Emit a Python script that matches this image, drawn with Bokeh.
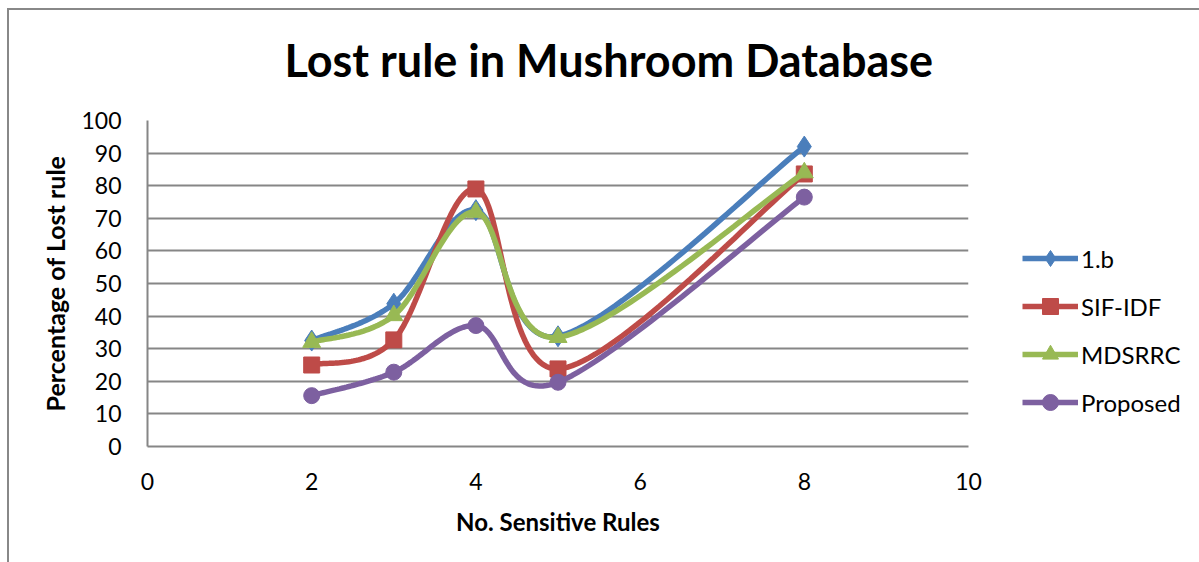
import numpy as np
from bokeh.plotting import figure
from bokeh.models import Legend, LegendItem, FixedTicker, Range1d, Title
from bokeh.embed import file_html
from bokeh.resources import INLINE

x_vals = [2, 3, 4, 5, 8]
series_names = ["1.b", "SIF-IDF", "MDSRRC", "Proposed"]
b1 = [32.5, 43.8, 72.5, 33.8, 92]
sif_idf = [25, 32.7, 79, 23.8, 83.6]
mdsrrc = [32, 40.2, 71.9, 33.5, 84]
proposed = [15.6, 22.8, 37.1, 19.7, 76.5]
colors = ["#4A7EBB", "#BE4B48", "#98B954", "#7D60A0"]
markers = ["diamond", "square", "triangle", "circle"]
x_ticks = [0, 2, 4, 6, 8, 10]
y_ticks = list(range(0, 101, 10))
title_text = "Lost rule in Mushroom Database"

FONT = "Lato"

def smooth(xs, ys, n=40):
    P = np.column_stack([xs, ys]).astype(float)
    out = []
    for i in range(len(P) - 1):
        p0 = P[i - 1] if i > 0 else P[i]
        p1 = P[i]
        p2 = P[i + 1]
        p3 = P[i + 2] if i + 2 < len(P) else P[i + 1]
        c1 = p1 + (p2 - p0) / 6.0
        c2 = p2 - (p3 - p1) / 6.0
        t = np.linspace(0, 1, n)[:, None]
        seg = ((1 - t) ** 3) * p1 + 3 * ((1 - t) ** 2) * t * c1 + 3 * (1 - t) * t ** 2 * c2 + t ** 3 * p2
        if i > 0:
            seg = seg[1:]
        out.append(seg)
    out = np.vstack(out)
    return out[:, 0], out[:, 1]

# canvas starts at x=9, y=10 (after 7/8 px margin + 2 px border)
p = figure(width=1190, height=552, output_backend="svg", toolbar_location=None,
           x_range=Range1d(0, 10), y_range=Range1d(0, 100),
           frame_width=821, frame_height=326, title_location=None,
           min_border_left=138, min_border_top=110, min_border_right=231, min_border_bottom=116)
p.styles = {"margin-left": "7px", "margin-top": "8px",
            "border-left": "2px solid #888888", "border-top": "2px solid #888888"}
p.outline_line_color = None
p.background_fill_color = "white"
p.border_fill_color = "white"

spacer = Title(text=" ", text_font_size="1px", standoff=26)
main_title = Title(text=title_text, text_font=FONT, text_font_size="45px",
                   text_font_style="bold", text_color="black",
                   align="left", offset=137, standoff=10)
p.add_layout(spacer, "above")
p.add_layout(main_title, "above")

p.xaxis.ticker = FixedTicker(ticks=x_ticks)
p.yaxis.ticker = FixedTicker(ticks=y_ticks)
for ax in (p.xaxis[0], p.yaxis[0]):
    ax.major_tick_line_color = None
    ax.minor_tick_line_color = None
    ax.axis_line_color = "#868686"
    ax.axis_line_width = 2
    ax.major_label_text_font = FONT
    ax.major_label_text_font_size = "23px"
    ax.major_label_text_color = "black"
    ax.axis_label_text_font = FONT
    ax.axis_label_text_font_style = "bold"
    ax.axis_label_text_font_size = "24px"
    ax.axis_label_text_color = "black"
p.xaxis.axis_label = "No. Sensitive Rules"
p.yaxis.axis_label = "Percentage of Lost rule"
p.yaxis.axis_label_text_font_size = "25px"
p.xaxis.major_label_standoff = 20
p.yaxis.major_label_standoff = 20
p.xaxis.axis_label_standoff = 14
p.yaxis.axis_label_standoff = 8

p.xgrid.grid_line_color = None
p.ygrid.grid_line_color = "#868686"
p.ygrid.grid_line_width = 2

items = []
for name, ys, col, mk in zip(series_names, [b1, sif_idf, mdsrrc, proposed], colors, markers):
    sx, sy = smooth(x_vals, ys)
    r1 = p.line(sx, sy, line_color=col, line_width=5.5)
    size = {"diamond": 21, "square": 16, "triangle": 18, "circle": 16}[mk]
    r2 = p.scatter(x_vals, ys, marker=mk, size=size, fill_color=col, line_color=col)
    items.append(LegendItem(label=name, renderers=[r1, r2]))

legend = Legend(items=items, location=(54, 24))
legend.border_line_color = None
legend.background_fill_alpha = 0
legend.padding = 0
legend.margin = 0
legend.spacing = 8
legend.glyph_width = 56
legend.glyph_height = 40
legend.label_height = 40
legend.label_standoff = 3
legend.label_text_font = FONT
legend.label_text_font_size = "24px"
legend.label_text_color = "black"
p.add_layout(legend, "right")

open("out.html", "w").write(file_html(p, INLINE))
